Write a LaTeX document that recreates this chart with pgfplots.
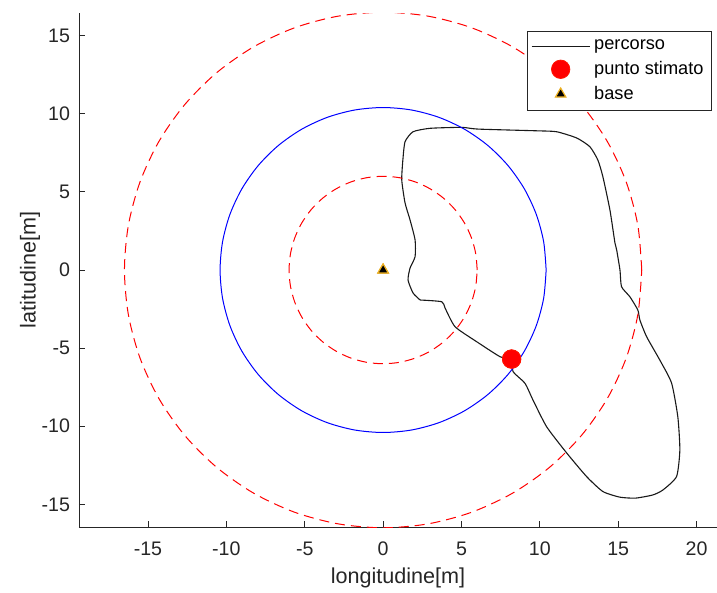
\documentclass[border=0pt]{standalone}
\usepackage{fontspec}
\setmainfont{Liberation Sans}
\usepackage{pgfplots}
\pgfplotsset{compat=1.18}
\usetikzlibrary{calc}
\definecolor{axgray}{rgb}{0.15,0.15,0.15}
\definecolor{baseedge}{rgb}{0.93,0.69,0.13}
\pgfplotsset{
  linelegend/.style={legend image code/.code={\draw[##1] (0cm,0cm) -- (1.02cm,0cm);}},
  marklegend/.style={legend image code/.code={\draw[##1] plot coordinates {(0.51cm,0cm)};}},
}

\begin{document}
\begin{tikzpicture}
\begin{axis}[
  scale only axis,
  width=319pt,height=257pt,
  xmin=-19.4,xmax=21.3,ymin=-16.45,ymax=16.45,
  axis x line*=bottom,axis y line*=left,
  axis line style={axgray,line width=0.4pt,-},
  tick align=inside,major tick length=3pt,
  tick style={axgray,line width=0.4pt},
  xtick={-15,-10,...,20},ytick={-15,-10,...,15},
  /pgf/number format/assume math mode=true,
  ticklabel style={font=\fontsize{9.8}{11}\selectfont,text=axgray},
  xticklabel style={yshift=-4pt},
  yticklabel style={xshift=-1pt},
  xlabel={longitudine[m]},ylabel={latitudine[m]},
  label style={font=\fontsize{10.8}{12}\selectfont,text=axgray},
  xlabel style={at={(axis description cs:0.5,-0.0992)},anchor=center},
  ylabel style={at={(axis description cs:-0.0768,0.5)},anchor=center},
  legend style={at={(0.992,0.965)},anchor=north east,draw=axgray,line width=0.4pt,
    font=\fontsize{9.1}{10}\selectfont,row sep=0.3pt,inner xsep=2pt,inner ysep=2.2pt},
  legend cell align=left,
]
% percorso
\addplot[black!90,line width=0.55pt,smooth,tension=0.35,linelegend] coordinates {
(2.36,-1.92) (3.74,-2.03) (3.95,-2.43) (4.59,-3.63) (5.97,-4.59) (7.46,-5.55)
(8.22,-5.76) (8.29,-6.51) (9.05,-7.25) (9.56,-8.32) (10.43,-10.03) (11.71,-11.71)
(12.98,-13.22) (14.02,-14.18) (15.11,-14.54) (16.10,-14.60) (17.20,-14.40) (17.85,-14.08)
(18.72,-13.22) (18.93,-11.52) (18.80,-9.39) (18.40,-7.23) (17.65,-5.76) (16.81,-4.27)
(16.38,-3.20) (16.25,-2.56) (15.74,-1.71) (15.21,-1.07) (15.11,0.00) (14.90,1.28)
(14.79,1.73) (14.47,3.84) (14.02,5.97) (13.70,7.04) (13.19,7.89) (12.35,8.45)
(11.07,8.85) (9.80,8.91) (6.05,9.02) (5.02,9.13) (3.00,9.07) (1.91,8.85)
(1.40,8.21) (1.26,7.04) (1.19,5.76) (1.40,4.29) (1.72,3.20) (2.04,1.92)
(2.04,0.85) (1.72,0.13) (1.59,-0.64) (1.91,-1.47) (2.36,-1.92)
};
\addlegendentry{percorso}
% punto stimato
\addplot[only marks,mark=*,mark size=4.6pt,color=red,mark options={fill=red,draw=red!85!orange},marklegend] coordinates {(8.2,-5.7)};
\addlegendentry{punto stimato}
% base
\addplot[only marks,mark=triangle*,mark size=3pt,mark options={fill=black,draw=baseedge,line width=0.6pt},marklegend] coordinates {(0,0)};
\addlegendentry{base}
% outer dashed circle r=16.5
\addplot[red,line width=0.5pt,dash pattern=on 5pt off 3pt,smooth,forget plot] coordinates {
(16.5,0) (16.249,2.865) (15.505,5.643) (14.289,8.25) (12.639,10.606) (10.606,12.639)
(8.25,14.289) (5.643,15.505) (2.865,16.249) (0,16.5) (-2.865,16.249) (-5.643,15.505)
(-8.25,14.289) (-10.606,12.639) (-12.639,10.606) (-14.289,8.25) (-15.505,5.643) (-16.249,2.865)
(-16.5,0) (-16.249,-2.865) (-15.505,-5.643) (-14.289,-8.25) (-12.639,-10.606) (-10.606,-12.639)
(-8.25,-14.289) (-5.643,-15.505) (-2.865,-16.249) (0,-16.5) (2.865,-16.249) (5.643,-15.505)
(8.25,-14.289) (10.606,-12.639) (12.639,-10.606) (14.289,-8.25) (15.505,-5.643) (16.249,-2.865)
(16.5,0)
};
% blue circle r=10.4
\addplot[blue,line width=0.5pt,smooth,forget plot] coordinates {
(10.4,0) (10.242,1.806) (9.773,3.557) (9.007,5.2) (7.967,6.685) (6.685,7.967)
(5.2,9.007) (3.557,9.773) (1.806,10.242) (0,10.4) (-1.806,10.242) (-3.557,9.773)
(-5.2,9.007) (-6.685,7.967) (-7.967,6.685) (-9.007,5.2) (-9.773,3.557) (-10.242,1.806)
(-10.4,0) (-10.242,-1.806) (-9.773,-3.557) (-9.007,-5.2) (-7.967,-6.685) (-6.685,-7.967)
(-5.2,-9.007) (-3.557,-9.773) (-1.806,-10.242) (0,-10.4) (1.806,-10.242) (3.557,-9.773)
(5.2,-9.007) (6.685,-7.967) (7.967,-6.685) (9.007,-5.2) (9.773,-3.557) (10.242,-1.806)
(10.4,0)
};
% inner dashed circle r=6
\addplot[red,line width=0.5pt,dash pattern=on 5pt off 3pt,smooth,forget plot] coordinates {
(6,0) (5.909,1.042) (5.638,2.052) (5.196,3) (4.596,3.857) (3.857,4.596)
(3,5.196) (2.052,5.638) (1.042,5.909) (0,6) (-1.042,5.909) (-2.052,5.638)
(-3,5.196) (-3.857,4.596) (-4.596,3.857) (-5.196,3) (-5.638,2.052) (-5.909,1.042)
(-6,0) (-5.909,-1.042) (-5.638,-2.052) (-5.196,-3) (-4.596,-3.857) (-3.857,-4.596)
(-3,-5.196) (-2.052,-5.638) (-1.042,-5.909) (0,-6) (1.042,-5.909) (2.052,-5.638)
(3,-5.196) (3.857,-4.596) (4.596,-3.857) (5.196,-3) (5.638,-2.052) (5.909,-1.042)
(6,0)
};
% markers again, on top of the circles
\addplot[only marks,mark=*,mark size=4.6pt,color=red,mark options={fill=red,draw=red!85!orange},forget plot] coordinates {(8.2,-5.7)};
\addplot[only marks,mark=triangle*,mark size=3pt,mark options={fill=black,draw=baseedge,line width=0.6pt},forget plot] coordinates {(0,0)};
\end{axis}
\pgfresetboundingbox
\path ($(current axis.south west)+(-39.5pt,-32.5pt)$) rectangle ($(current axis.north east)+(0pt,6.5pt)$);
\end{tikzpicture}
\end{document}
